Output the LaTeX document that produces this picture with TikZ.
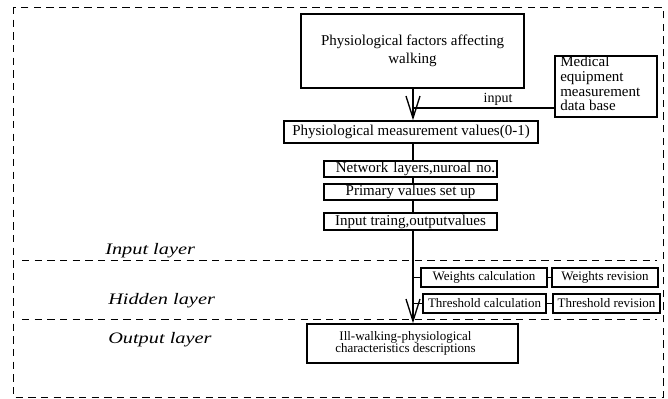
\documentclass[tikz,border=0pt]{standalone}
\usepackage{graphicx}
\usepackage{fontspec}
\setmainfont{Liberation Serif}
\usetikzlibrary{arrows.meta}
\begin{document}
\begin{tikzpicture}[x=0.75pt,y=-0.75pt,
  box/.style={draw, line width=1.1pt, inner sep=0pt, font=\fontsize{11.25}{13}\selectfont},
  smallbox/.style={draw, line width=1.1pt, inner sep=0pt, minimum height={19*0.75pt}, font=\fontsize{9.75}{11}\selectfont},
  link/.style={line width=1.1pt},
  barb/.style={link, -{Straight Barb[length={22*0.75pt}, width={14*0.75pt}, line width=1pt]}},
  frame/.style={dash pattern=on 5.5pt off 4pt, line width=0.65pt},
  layer/.style={anchor=base west, inner sep=0pt, font=\fontsize{12}{14}\selectfont\itshape}
]
\useasboundingbox (0,0) rectangle (668,399);

% dashed frame and layer separators
\draw[frame] (13,7) rectangle (663,397);
\draw[frame] (22,260) -- (657,260);
\draw[frame] (22,319) -- (657,319);

% layer labels
\node[layer] (lin)  at (105,254) {\scalebox{1.27}[1]{Input layer}};
\node[layer] (lhid) at (108,304) {\scalebox{1.27}[1]{Hidden layer}};
\node[layer] (lout) at (108,343) {\scalebox{1.27}[1]{Output layer}};

% process boxes
\node[box, minimum width={223*0.75pt}, minimum height={74*0.75pt}, align=center,
      font=\fontsize{11.25}{13.5}\selectfont] (fac) at (412.5,51)
      {Physiological factors affecting\\walking};
\node[box, minimum width={102*0.75pt}, minimum height={61*0.75pt}] (med) at (606,86.5) {};
\node[anchor=north west, inner sep=0pt, align=left, font=\fontsize{11.25}{11}\selectfont]
      (medtxt) at (560,56) {Medical\\equipment\\measurement\\data base};
\node[box, minimum width={254*0.75pt}, minimum height={22*0.75pt}] (meas) at (411,132)
      {Physiological measurement values(0-1)};
\node[box, minimum width={173*0.75pt}, minimum height={16*0.75pt}, text width={169*0.75pt},
      inner xsep={2*0.75pt}, align=right] (net) at (410.5,169) {Network layers,nuroal no.};
\node[box, minimum width={173*0.75pt}, minimum height={16*0.75pt}] (prim) at (410.5,192)
      {Primary values set up};
\node[box, minimum width={173*0.75pt}, minimum height={17*0.75pt}] (inp) at (410.5,221.5)
      {Input traing,outputvalues};
\node[smallbox, minimum width={126*0.75pt}] (wc) at (484,277.5) {Weights calculation};
\node[smallbox, minimum width={106*0.75pt}] (wr) at (605,277.5) {Weights revision};
\node[smallbox, minimum width={123*0.75pt}] (tc) at (484.5,303.5) {Threshold calculation};
\node[smallbox, minimum width={107*0.75pt}] (tr) at (606.5,303.5) {Threshold revision};
\node[box, minimum width={211*0.75pt}, minimum height={39*0.75pt}, align=center,
      font=\fontsize{9.75}{9.4}\selectfont] (out) at (412.5,343.5)
      {Ill-walking-physiological\hspace*{10.5pt}\\characteristics descriptions\hspace*{10.5pt}};

\node[anchor=base, inner sep=0pt, font=\fontsize{10.5}{12}\selectfont] (lbl) at (498,103) {input};

% connectors along the main axis
\coordinate (ax) at (413,0);
\coordinate (join) at (413,108);
\draw[barb] (fac.south -| ax) -- (meas.north -| ax);
\draw[link] (med.west |- join) -- (join);
\draw[link] (meas.south -| ax) -- (net.north -| ax);
\draw[link] (net.south -| ax) -- (prim.north -| ax);
\draw[link] (prim.south -| ax) -- (inp.north -| ax);
\draw[barb] (inp.south -| ax) -- (out.north -| ax);
\draw[link] (wc.west -| ax) -- (wc.west);
\draw[link] (tc.west -| ax) -- (tc.west);
\draw[link] (wc.east) -- (wr.west);
\draw[link] (tc.east) -- (tr.west);
\end{tikzpicture}
\end{document}
